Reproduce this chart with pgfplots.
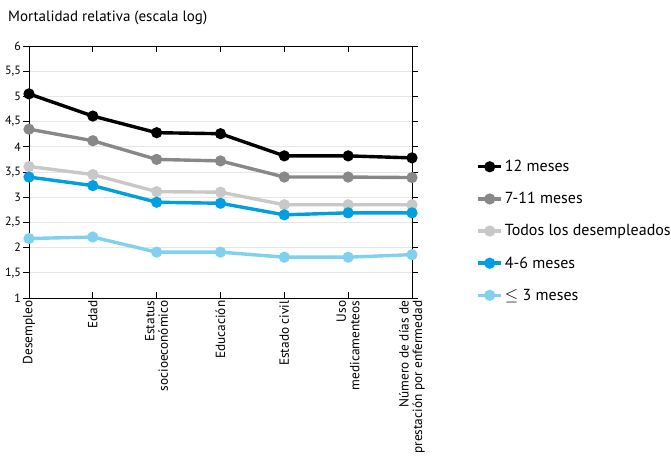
\documentclass[border=0pt]{standalone}
\usepackage{pgfplots}
\pgfplotsset{compat=1.18}
\usepackage{fontspec}
\setmainfont{PT Sans}
\definecolor{cBlack}{HTML}{000000}
\definecolor{cGray}{HTML}{888888}
\definecolor{cLGray}{HTML}{C8C8C8}
\definecolor{cBlue}{HTML}{009FDF}
\definecolor{cLBlue}{HTML}{80D0F0}
\definecolor{cGrid}{HTML}{E6E6E6}
\begin{document}
\begin{tikzpicture}
\begin{axis}[
  at={(0pt,0pt)}, anchor=south west,
  scale only axis, width=383pt, height=252pt,
  xmin=0, xmax=6, ymin=1, ymax=6,
  xtick={0,1,2,3,4,5,6},
  xticklabels={Desempleo,Edad,{Estatus\\socioeconómico},Educación,Estado civil,{Uso\\medicamenteos},{Número de días de\\prestación por enfermedad}},
  x tick label style={rotate=90, anchor=east, align=right, font=\fontsize{13.3}{13.5}\selectfont, inner sep=2.5pt},
  ytick={1,1.5,...,6},
  y tick label style={font=\fontsize{12}{13}\selectfont, inner sep=2pt},
  yticklabel style={/pgf/number format/.cd, use comma, fixed, precision=1},
  /pgf/number format/assume math mode=true,
  ymajorgrids, grid style={cGrid, line width=0.8pt},
  axis line style={black, line width=0.9pt},
  xtick align=inside, ytick align=outside,
  major tick length=6pt,
  tick style={black, line width=0.8pt},
  every axis plot/.append style={line width=3.4pt, mark=*, mark size=3.8pt},
  legend style={at={(1.168,0.555)}, anchor=north west, draw=none, fill=none,
    font=\fontsize{16}{18}\selectfont, row sep=15.3pt, inner sep=0pt,
    /tikz/every even column/.append style={column sep=10pt}},
  legend cell align=left,
  legend image code/.code={\draw[mark repeat=2,mark phase=2,#1] plot coordinates {(0pt,0pt) (11.5pt,0pt) (23pt,0pt)};},
  clip=false,
]
\addplot[cBlack, mark options={fill=cBlack}] coordinates {(0,5.05) (1,4.61) (2,4.28) (3,4.26) (4,3.82) (5,3.82) (6,3.78)};
\addlegendentry{12 meses}
\addplot[cGray, mark options={fill=cGray}] coordinates {(0,4.35) (1,4.12) (2,3.75) (3,3.72) (4,3.40) (5,3.40) (6,3.39)};
\addlegendentry{7-11 meses}
\addplot[cLGray, mark options={fill=cLGray}] coordinates {(0,3.61) (1,3.45) (2,3.11) (3,3.10) (4,2.85) (5,2.85) (6,2.85)};
\addlegendentry{Todos los desempleados}
\addplot[cBlue, mark options={fill=cBlue}] coordinates {(0,3.40) (1,3.23) (2,2.90) (3,2.88) (4,2.65) (5,2.69) (6,2.69)};
\addlegendentry{4-6 meses}
\addplot[cLBlue, mark options={fill=cLBlue}] coordinates {(0,2.18) (1,2.21) (2,1.91) (3,1.91) (4,1.81) (5,1.81) (6,1.86)};
\addlegendentry{$\leq$ 3 meses}
\end{axis}
\node[anchor=west, inner sep=0pt, font=\fontsize{15}{17}\selectfont] at (-21pt,280pt) {Mortalidad relativa (escala log)};
\pgfresetboundingbox
\path (-29pt,-161pt) rectangle (642pt,298pt);
\end{tikzpicture}
\end{document}
